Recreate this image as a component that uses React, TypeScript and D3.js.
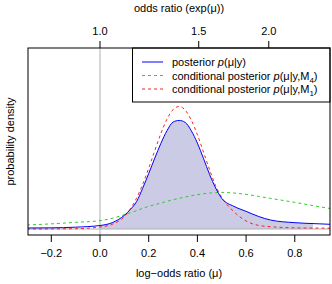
import React from "react";
import * as d3 from "d3";

// log-odds grid and the three densities
const mu = [-0.3, -0.2, -0.1, 0, 0.05, 0.1, 0.125, 0.15, 0.175, 0.2, 0.225, 0.25, 0.275, 0.3, 0.325, 0.35, 0.375, 0.4, 0.425, 0.45, 0.475, 0.5, 0.55, 0.6, 0.65, 0.7, 0.8, 0.9, 0.95];
const posterior = [0.03, 0.035, 0.055, 0.105, 0.19, 0.41, 0.59, 0.82, 1.22, 1.665, 2.13, 2.57, 2.95, 3.21, 3.26, 3.2, 2.95, 2.58, 2.12, 1.64, 1.23, 0.92, 0.68, 0.53, 0.38, 0.27, 0.19, 0.155, 0.14];
const condM4 = [0.12, 0.155, 0.2, 0.25, 0.32, 0.43, 0.49, 0.55, 0.62, 0.68, 0.73, 0.78, 0.83, 0.88, 0.92, 0.96, 1.0, 1.03, 1.06, 1.08, 1.09, 1.1, 1.08, 1.04, 0.98, 0.92, 0.8, 0.67, 0.61];
const condM1 = [0.0, 0.003, 0.01, 0.06, 0.14, 0.373, 0.605, 0.925, 1.337, 1.826, 2.354, 2.866, 3.298, 3.585, 3.68, 3.568, 3.27, 2.83, 2.31, 1.78, 1.3, 0.95, 0.52, 0.24, 0.11, 0.07, 0.035, 0.028, 0.025];

const shadeRange = [0, 0.875];
const logOddsTicks = [-0.2, 0, 0.2, 0.4, 0.6, 0.8];
const logOddsLabels = ["\u22120.2", "0.0", "0.2", "0.4", "0.6", "0.8"];
const oddsTicks = [1.0, 1.5, 2.0];
const oddsLabels = ["1.0", "1.5", "2.0"];

const W = 332;
const H = 284;
const box = { left: 28, right: 330, top: 48, bottom: 235 };
const font = "Liberation Sans, Arial, Helvetica, sans-serif";

export default function App() {
  const x = d3.scaleLinear().domain([-0.2957, 0.9446]).range([box.left, box.right]);
  const y = d3.scaleLinear().domain([-0.18, 5.435]).range([box.bottom, box.top]);

  const pts = (vals: number[]) => mu.map((m, i) => [m, vals[i]] as [number, number]);
  const line = d3
    .line<[number, number]>()
    .x((d) => x(d[0]))
    .y((d) => y(d[1]))
    .curve(d3.curveMonotoneX);
  const area = d3
    .area<[number, number]>()
    .x((d) => x(d[0]))
    .y0(y(0))
    .y1((d) => y(d[1]))
    .curve(d3.curveMonotoneX);

  const legend = [
    { color: "#0000ff", dash: undefined, label: "posterior ", sub: null },
    { color: "#2ecc2e", dash: "3,3", label: "conditional posterior ", sub: "4" },
    { color: "#ff2020", dash: "3,3", label: "conditional posterior ", sub: "1" },
  ];

  return (
    <svg width={W} height={H} style={{ position: "absolute", left: 0, top: 0 }} fontFamily={font}>
      <defs>
        <clipPath id="plot">
          <rect x={box.left} y={box.top} width={box.right - box.left} height={box.bottom - box.top} />
        </clipPath>
        <clipPath id="shade">
          <rect x={x(shadeRange[0])} y={box.top} width={x(shadeRange[1]) - x(shadeRange[0])} height={box.bottom - box.top} />
        </clipPath>
      </defs>

      <g clipPath="url(#plot)">
        <path d={area(pts(posterior)) ?? ""} fill="#cbcbe5" clipPath="url(#shade)" />
        <line x1={box.left} x2={box.right} y1={y(0)} y2={y(0)} stroke="#b0b0b0" />
        <line x1={x(0)} x2={x(0)} y1={box.top} y2={box.bottom} stroke="#b0b0b0" />
        <path d={line(pts(condM4)) ?? ""} fill="none" stroke="#2ecc2e" strokeDasharray="3,3" />
        <path d={line(pts(condM1)) ?? ""} fill="none" stroke="#ff2020" strokeDasharray="3,3" />
        <path d={line(pts(posterior)) ?? ""} fill="none" stroke="#0000ff" />
      </g>

      {/* legend */}
      <rect x={132.5} y={box.top} width={box.right - 132.5} height={54} fill="white" stroke="black" />
      {legend.map((l, i) => {
        const ly = 62 + i * 13.5;
        return (
          <g key={i}>
            <line x1={142} x2={163} y1={ly} y2={ly} stroke={l.color} strokeDasharray={l.dash} />
            <text x={172} y={ly + 4} fontSize={11}>
              {l.label}
              <tspan fontStyle="italic">p</tspan>
              {l.sub ? "(\u03bc|y,M" : "(\u03bc|y)"}
              {l.sub && (
                <tspan fontSize={8} dy={3}>
                  {l.sub}
                </tspan>
              )}
              {l.sub && <tspan dy={-3}>)</tspan>}
            </text>
          </g>
        );
      })}

      <rect x={box.left} y={box.top} width={box.right - box.left} height={box.bottom - box.top} fill="none" stroke="black" />

      {/* bottom axis */}
      {logOddsTicks.map((t, i) => (
        <g key={t}>
          <line x1={x(t)} x2={x(t)} y1={box.bottom} y2={box.bottom + 7} stroke="black" />
          <text x={x(t)} y={257} fontSize={11} textAnchor="middle">
            {logOddsLabels[i]}
          </text>
        </g>
      ))}
      <text x={(box.left + box.right) / 2} y={277} fontSize={11} textAnchor="middle">
        log{"\u2212"}odds ratio ({"\u03bc"})
      </text>

      {/* top axis */}
      {oddsTicks.map((t, i) => (
        <g key={t}>
          <line x1={x(Math.log(t))} x2={x(Math.log(t))} y1={box.top} y2={box.top - 7} stroke="black" />
          <text x={x(Math.log(t))} y={35} fontSize={11} textAnchor="middle">
            {oddsLabels[i]}
          </text>
        </g>
      ))}
      <text x={(box.left + box.right) / 2} y={12} fontSize={11} textAnchor="middle">
        odds ratio (exp({"\u03bc"}))
      </text>

      <text transform={`translate(14,${(box.top + box.bottom) / 2}) rotate(-90)`} fontSize={11} textAnchor="middle">
        probability density
      </text>
    </svg>
  );
}
